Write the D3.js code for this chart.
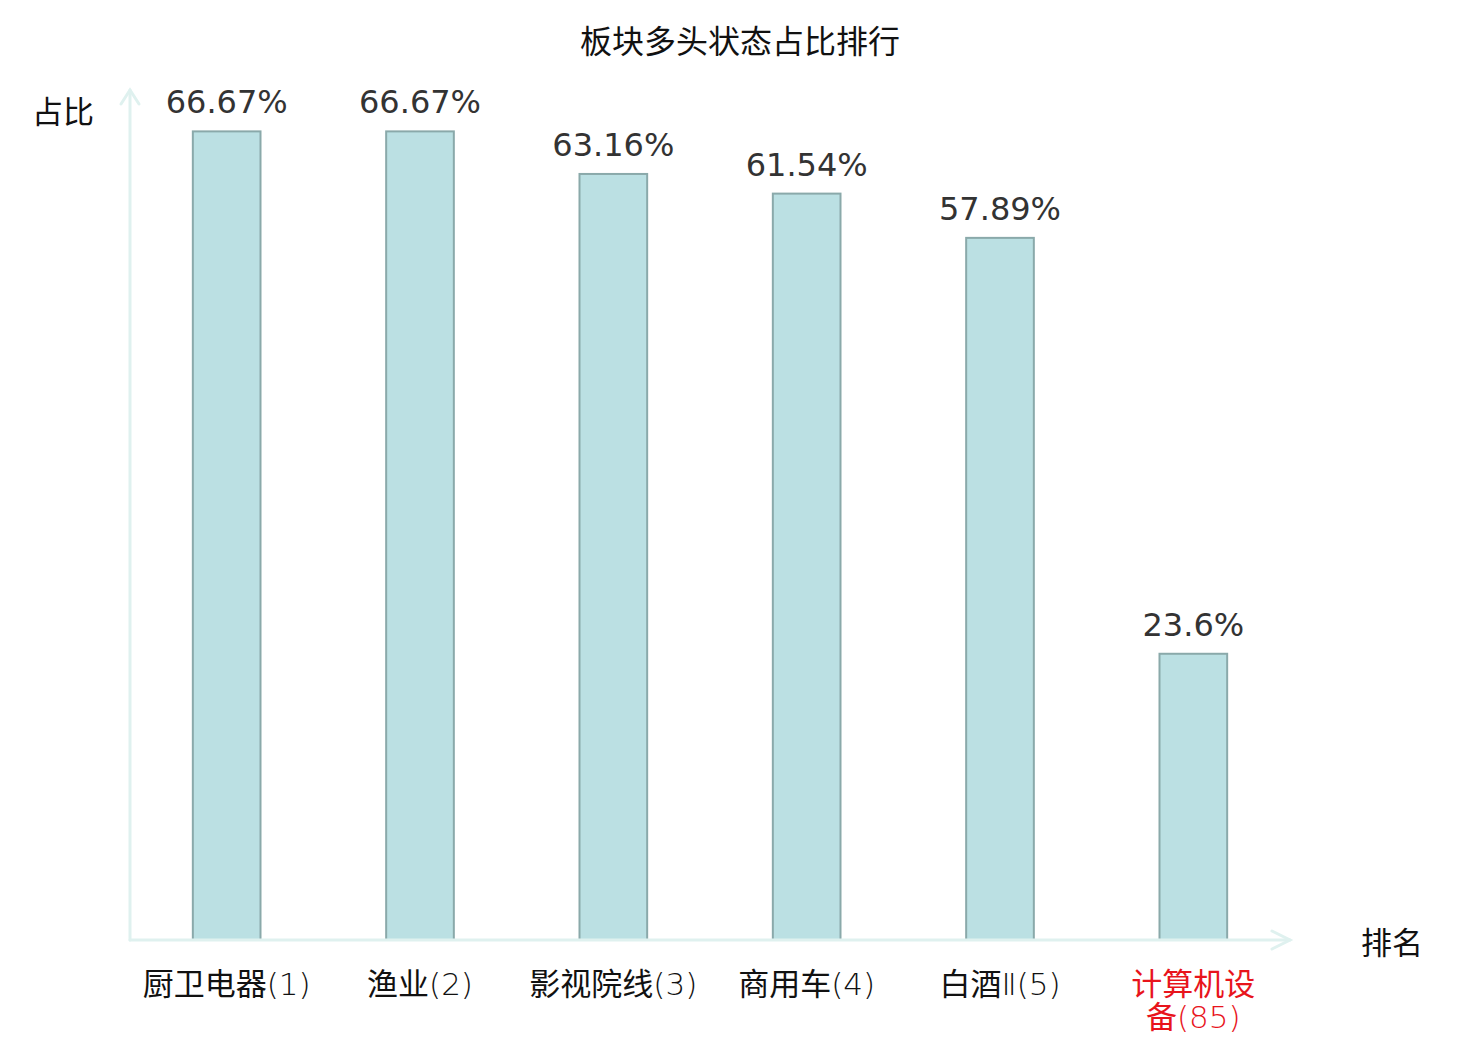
<!DOCTYPE html>
<html>
<head>
<meta charset="utf-8">
<script src="https://cdn.jsdelivr.net/npm/d3@7"></script>
<style>
  body { margin: 0; background: #fff; }
  svg text { font-family: "Noto Sans CJK SC", "DejaVu Sans", sans-serif; }
</style>
</head>
<body>
<div id="chart"></div>
<script>
// Sector names, rank and share of bullish state (%)
const sectors = ["厨卫电器", "渔业", "影视院线", "商用车", "白酒Ⅱ", "计算机设备"];
const ranks = [1, 2, 3, 4, 5, 85];
const shares = [66.67, 66.67, 63.16, 61.54, 57.89, 23.6];
const highlightRank = 85;

const width = 1480, height = 1040;
const x0 = 130, x1 = 1290, y0 = 940, yTop = 91;

const svg = d3.select("#chart").append("svg")
    .attr("width", width)
    .attr("height", height);

const data = sectors.map((s, i) => ({ name: s, rank: ranks[i], value: shares[i] }));

// Scales
const x = d3.scaleBand()
    .domain(data.map(d => d.name))
    .range([x0, x1])
    .paddingInner(0.65)
    .paddingOuter(0.325);

const y = d3.scaleLinear()
    .domain([0, 70])
    .range([y0, yTop]);

// Title
svg.append("text")
    .attr("x", width / 2)
    .attr("y", 53)
    .attr("text-anchor", "middle")
    .style("font-size", "32px")
    .style("fill", "#111")
    .text("板块多头状态占比排行");

// Bars
svg.selectAll(".bar")
    .data(data)
    .enter().append("rect")
    .attr("class", "bar")
    .attr("x", d => x(d.name))
    .attr("y", d => y(d.value))
    .attr("width", x.bandwidth())
    .attr("height", d => y(0) - y(d.value))
    .attr("fill", "#bbe0e3")
    .attr("stroke", "#8aa9aa")
    .attr("stroke-width", 2);

// Value labels
svg.selectAll(".val")
    .data(data)
    .enter().append("text")
    .attr("class", "val")
    .attr("x", d => x(d.name) + x.bandwidth() / 2)
    .attr("y", d => y(d.value) - 18)
    .attr("text-anchor", "middle")
    .style("font-family", "'DejaVu Sans', sans-serif")
    .style("font-size", "32px")
    .style("fill", "#333")
    .text(d => d.value + "%");

// Axes with arrows
const axisColor = "#dff1ef";
const axes = svg.append("g")
    .attr("fill", "none")
    .attr("stroke", axisColor)
    .attr("stroke-width", 3)
    .attr("stroke-linecap", "round");

axes.append("line").attr("x1", x0).attr("y1", y0).attr("x2", x0).attr("y2", 90);
axes.append("path").attr("d", `M${x0 - 9},${104} L${x0},${90} L${x0 + 9},${104}`);
axes.append("line").attr("x1", x0).attr("y1", y0).attr("x2", x1).attr("y2", y0);
axes.append("path").attr("d", `M${x1 - 18},${y0 - 9} L${x1},${y0} L${x1 - 18},${y0 + 9}`);

// Category labels (wrapped into two lines when too long)
// CJK part in regular weight, roman numeral / rank in a light latin face
const maxChars = 4;
const lineGap = 33;

function addPart(t, str) {
    // split into runs of CJK vs other characters
    const runs = str.match(/[\u3400-\u9fff]+|[^\u3400-\u9fff]+/g) || [];
    runs.forEach(r => {
        const cjk = /[\u3400-\u9fff]/.test(r);
        t.append("tspan")
            .style("font-family", cjk ? "'Noto Sans CJK SC', sans-serif" : "'DejaVu Sans', sans-serif")
            .style("font-weight", cjk ? 400 : 200)
            .text(r);
    });
}

data.forEach(d => {
    const cx = x(d.name) + x.bandwidth() / 2;
    const lines = d.name.length > maxChars
        ? [d.name.slice(0, maxChars), d.name.slice(maxChars) + "(" + d.rank + ")"]
        : [d.name + "(" + d.rank + ")"];
    lines.forEach((line, i) => {
        const t = svg.append("text")
            .attr("class", "cat")
            .attr("x", cx)
            .attr("y", 995 + i * lineGap)
            .attr("text-anchor", "middle")
            .style("font-size", "31px")
            .style("fill", d.rank === highlightRank ? "#e8141c" : "#111");
        addPart(t, line);
    });
});

// Axis names
svg.append("text")
    .attr("x", 63)
    .attr("y", 123)
    .attr("text-anchor", "middle")
    .style("font-size", "31px")
    .style("fill", "#111")
    .text("占比");

svg.append("text")
    .attr("x", 1392)
    .attr("y", 954)
    .attr("text-anchor", "middle")
    .style("font-size", "31px")
    .style("fill", "#111")
    .text("排名");
</script>
</body>
</html>
